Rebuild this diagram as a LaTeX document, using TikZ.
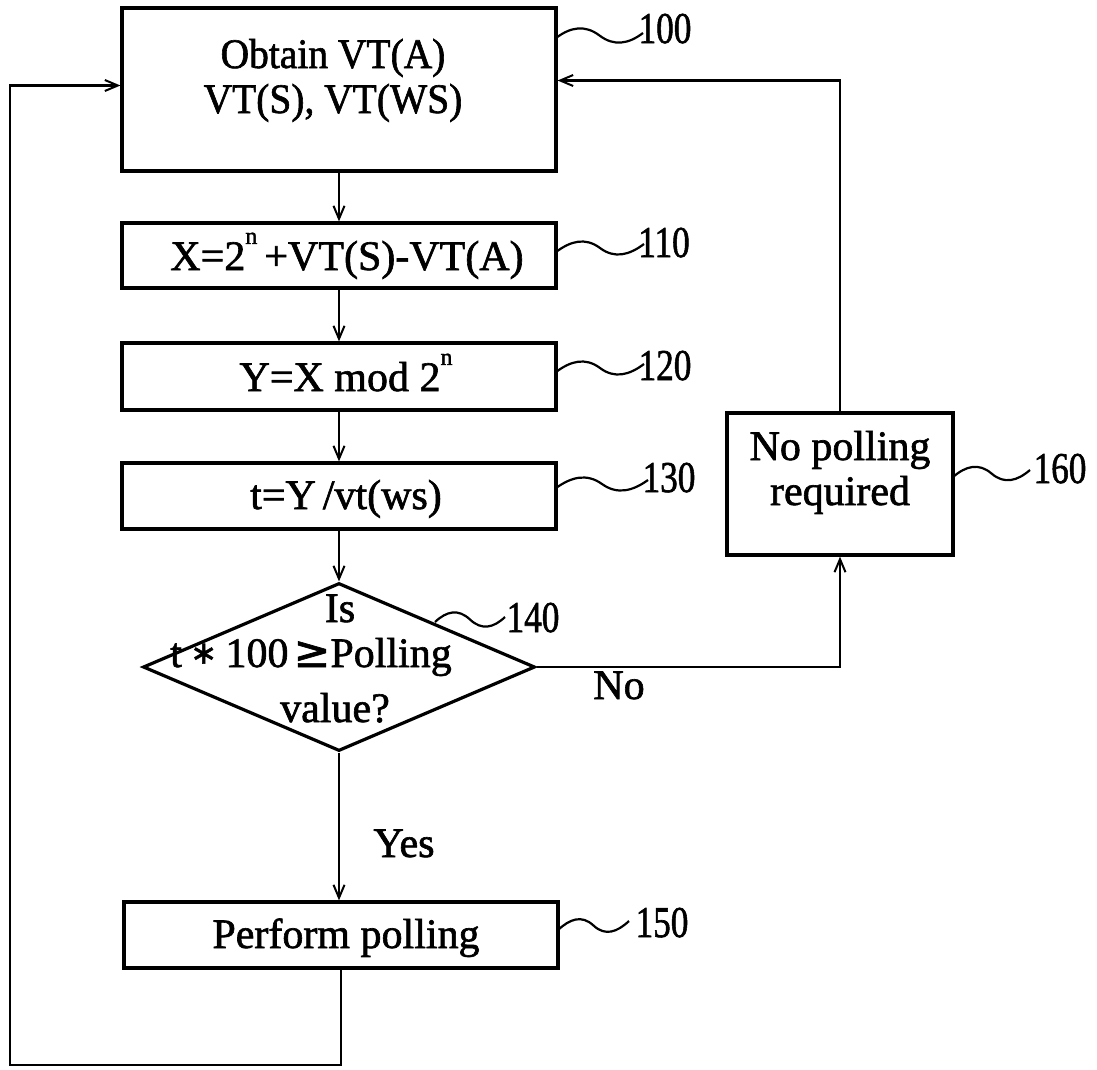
\documentclass[tikz,border=0pt]{standalone}
\usepackage{fontspec}
\setmainfont{Liberation Serif}[FakeBold=1.5]
\newfontfamily\symfont{DejaVu Sans}[FakeBold=1.5]
\usetikzlibrary{arrows.meta,shapes.geometric,calc}
\tikzset{
 box/.style={draw, line width=3.2pt, inner sep=0pt},
 flow/.style={line width=2.2pt, -{Straight Barb[length=13pt,width=11pt,line width=2pt]}},
 txt/.style={anchor=base, inner sep=0pt, font=\fontsize{42}{48}\selectfont},
 reflab/.style={anchor=base, inner sep=0pt, font=\fontsize{44}{48}\selectfont},
 sqline/.style={line width=2.2pt},
}
\newcommand{\cond}[1]{\scalebox{0.8}[1]{#1}}
\newcommand{\supn}{\raisebox{0.62em}{\fontsize{24}{24}\selectfont n}}
\newcommand{\squig}[4]{\draw[sqline] (#1,#2) .. controls +({(#3-#1)/6},-11) and +({-(#3-#1)/6},-11) .. ({(#1+#3)/2},{(#2+#4)/2}) .. controls +({(#3-#1)/6},11) and +({-(#3-#1)/6},11) .. (#3,#4);}
\begin{document}
\begin{tikzpicture}[x=1pt,y=-1pt]
\useasboundingbox (0,0) rectangle (1097,1069);
% boxes
\node[box, minimum width=434pt, minimum height=163pt] (b100) at (339,89.5) {};
\node[box, minimum width=434pt, minimum height=65pt] (b110) at (339,255.5) {};
\node[box, minimum width=434pt, minimum height=67pt] (b120) at (339,376.5) {};
\node[box, minimum width=434pt, minimum height=66pt] (b130) at (339,496) {};
\node[box, diamond, minimum width=392pt, minimum height=168pt] (d140) at (339,667) {};
\node[box, minimum width=434pt, minimum height=66pt] (b150) at (341,935) {};
\node[box, minimum width=226pt, minimum height=142pt] (b160) at (840,484) {};
% texts
\node[txt] (t100a) at (333,68) {\scalebox{0.94}[1]{Obtain VT(A)}};
\node[txt] (t100b) at (333,113) {\scalebox{0.94}[1]{VT(S), VT(WS)}};
\node[txt] (t110) at (347,270) {X=2\supn\,+VT(S)-VT(A)};
\node[txt] (t120) at (346,391) {Y=X mod 2\supn};
\node[txt] (t130) at (346,509) {t=Y\,/vt(ws)};
\node[txt] (t140a) at (340,622) {Is};
\node[txt] (t140b) at (311,667) {t\hspace{0.2em}\raisebox{0.08em}{\fontsize{32}{32}\symfont ∗}\hspace{0.2em}100\hspace{0.12em}{\symfont\fontsize{44}{44}\selectfont ≥}Polling};
\node[txt] (t140c) at (335,722) {value?};
\node[txt] (t150) at (346,948) {Perform polling};
\node[txt] (t160a) at (840,460) {No polling};
\node[txt] (t160b) at (840,505) {required};
\node[txt] (yes) at (404,857) {Yes};
\node[txt] (no) at (619,699) {No};
% reference numerals
\node[reflab] (r100) at (665,43) {\cond{100}};
\node[reflab] (r110) at (664,257) {\cond{110}};
\node[reflab] (r120) at (665,380) {\cond{120}};
\node[reflab] (r130) at (669,492) {\cond{130}};
\node[reflab] (r140) at (533,632) {\cond{140}};
\node[reflab] (r150) at (662,937) {\cond{150}};
\node[reflab] (r160) at (1060,483) {\cond{160}};
\squig{556}{38}{643}{33}
\squig{556}{252}{644}{244}
\squig{556}{372}{644}{364}
\squig{556}{488}{648}{480}
\squig{435}{622}{505}{617}
\squig{558}{930}{629}{921}
\squig{953}{477}{1030}{470}
% connectors
\draw[flow] (b100.south) -- (b100.south |- b110.north);
\draw[flow] (b110.south) -- (b110.south |- b120.north);
\draw[flow] (b120.south) -- (b120.south |- b130.north);
\draw[flow] (b130.south) -- (d140.north);
\draw[flow] (d140.south) -- (d140.south |- b150.north);
\draw[flow] (d140.east) -| (b160.south);
\draw[flow] (b160.north) |- ([yshift=9pt]b100.east);
\draw[flow] (b150.south) |- (10,1065) |- ([yshift=4pt]b100.west);
\end{tikzpicture}
\end{document}
